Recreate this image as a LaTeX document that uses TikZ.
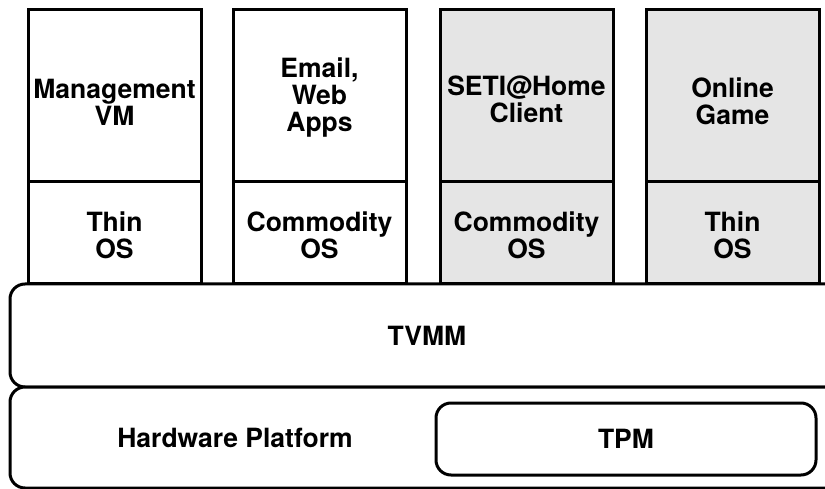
\documentclass[tikz,border=0pt]{standalone}
\usepackage{fontspec}
\setmainfont{TeX Gyre Heros}
\begin{document}
\begin{tikzpicture}[x=1pt,y=-1pt,
  every node/.style={font=\bfseries\fontsize{26.5}{27}\selectfont, align=center, inner sep=0pt, outer sep=0pt},
  box/.style={draw=black, line width=3pt, fill=white},
  vmtop/.style={box, minimum width=173pt, minimum height=172pt},
  vmos/.style={box, minimum width=173pt, minimum height=102pt},
  shaded/.style={fill=gray!20},
  layer/.style={box, rounded corners=15pt, minimum width=834pt},
]
\useasboundingbox (0,0) rectangle (825,489);
\begin{scope}
\clip (0,0) rectangle (825,489);
% platform layers
\node[layer, minimum height=103pt] (tvmm) at (427,335.5) {TVMM};
\node[layer, minimum height=101pt] (hw) at (427,437.5) {};
\node (hwlabel) at (235,437.5) {Hardware Platform};
\node[box, rounded corners=15pt, minimum width=380pt, minimum height=72pt] (tpm) at (626,439) {TPM};
% virtual machines: application boxes on top of their guest OS boxes
\node[vmtop] (mgmt) at (114.5,96) {};
\node[vmos]  (mgmtos) at (114.5,233) {};
\node[vmtop] (email) at (319.5,96) {};
\node[vmos]  (emailos) at (319.5,233) {};
\node[vmtop, shaded] (seti) at (526.5,96) {};
\node[vmos, shaded]  (setios) at (526.5,233) {};
\node[vmtop, shaded] (game) at (732.5,96) {};
\node[vmos, shaded]  (gameos) at (732.5,233) {};
% labels
\node (mgmtl) at ([yshift=-6pt]mgmt.center) {Management\\VM};
\node (emaill) at ([yshift=-2pt]email.center) {Email,\\Web\\Apps};
\node (setil) at ([yshift=-3pt]seti.center) {SETI@Home\\Client};
\node (gamel) at ([yshift=-5pt]game.center) {Online\\Game};
\node (mgmtosl) at ([yshift=-2pt]mgmtos.center) {Thin\\OS};
\node (emailosl) at ([yshift=-2pt]emailos.center) {Commodity\\OS};
\node (setiosl) at ([yshift=-2pt]setios.center) {Commodity\\OS};
\node (gameosl) at ([yshift=-2pt]gameos.center) {Thin\\OS};
\end{scope}
\end{tikzpicture}
\end{document}
